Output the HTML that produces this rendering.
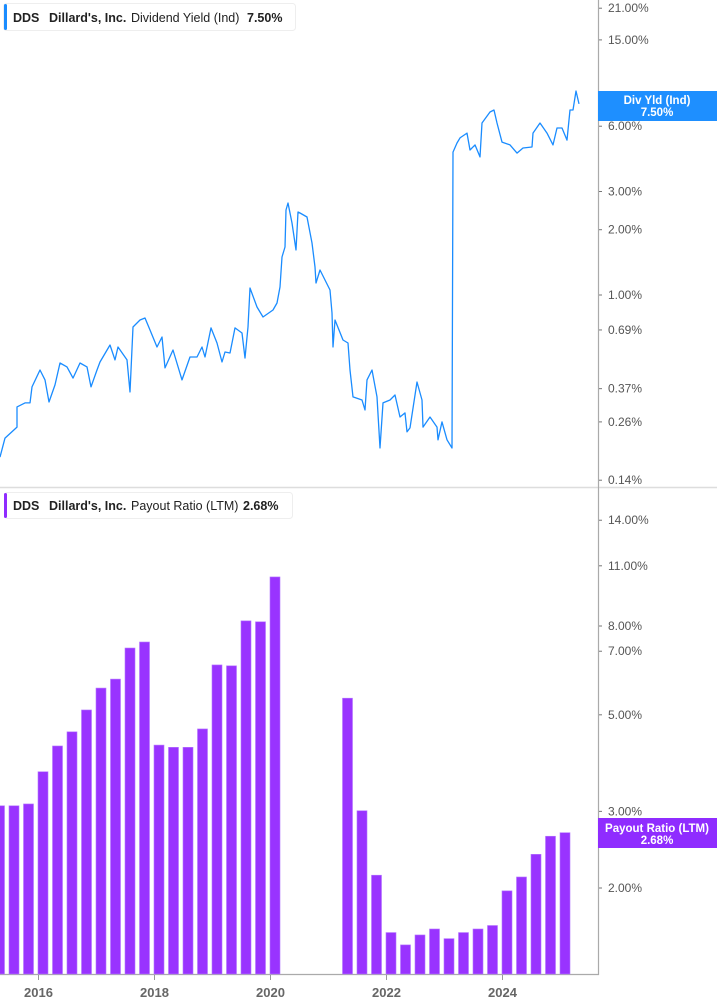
<!DOCTYPE html>
<html><head><meta charset="utf-8"><style>
body{margin:0;background:#fff;font-family:"Liberation Sans",sans-serif;}
svg{display:block}
</style></head><body>
<svg width="717" height="1005" viewBox="0 0 717 1005" id="chart">
<line x1="0" y1="487.5" x2="717" y2="487.5" stroke="#ddd" stroke-width="1.5"/>
<line x1="598.5" y1="0" x2="598.5" y2="975" stroke="#aaa" stroke-width="1.2"/>
<line x1="0" y1="974.5" x2="599" y2="974.5" stroke="#aaa" stroke-width="1.2"/>
<g id="top-ticks"></g>
<g id="bot-ticks"></g>
<g id="x-ticks"></g>
<g id="bars"></g>
<polyline id="yield-line" fill="none" stroke="#1a8cff" stroke-width="1.3" stroke-linejoin="round"/>
<g>
<rect x="3.5" y="3.5" width="292" height="27" rx="3" fill="#fff" stroke="#eee"/>
<rect x="4" y="4" width="3" height="26" rx="1.5" fill="#1a8cff"/>
<text x="13" y="22" font-size="12.5" font-weight="bold" fill="#222">DDS</text>
<text x="49" y="22" font-size="12.5" font-weight="bold" fill="#222">Dillard's, Inc.</text>
<text x="131" y="22" font-size="12.5" fill="#222">Dividend Yield (Ind)</text>
<text x="247" y="22" font-size="12.5" font-weight="bold" fill="#222">7.50%</text>
</g>
<g>
<rect x="4.5" y="492.5" width="288" height="26" rx="3" fill="#fff" stroke="#eee"/>
<rect x="4" y="493" width="3" height="25" rx="1.5" fill="#8f2cff"/>
<text x="13" y="510" font-size="12.5" font-weight="bold" fill="#222">DDS</text>
<text x="49" y="510" font-size="12.5" font-weight="bold" fill="#222">Dillard's, Inc.</text>
<text x="131" y="510" font-size="12.5" fill="#222">Payout Ratio (LTM)</text>
<text x="243" y="510" font-size="12.5" font-weight="bold" fill="#222">2.68%</text>
</g>
<g>
<rect x="598" y="91" width="119" height="30" fill="#1e8fff"/>
<text x="657" y="104" font-size="11.5" font-weight="bold" fill="#fff" text-anchor="middle">Div Yld (Ind)</text>
<text x="657" y="116" font-size="11.5" font-weight="bold" fill="#fff" text-anchor="middle">7.50%</text>
</g>
<g>
<rect x="598" y="818" width="119" height="30" fill="#8f2cff"/>
<text x="657" y="832" font-size="11.5" font-weight="bold" fill="#fff" text-anchor="middle">Payout Ratio (LTM)</text>
<text x="657" y="844" font-size="11.5" font-weight="bold" fill="#fff" text-anchor="middle">2.68%</text>
</g>
</svg>
<script>
const topTicks=[21,15,6,3,2,1,0.69,0.37,0.26,0.14];
const botTicks=[14,11,8,7,5,3,2];
const years=[2016,2018,2020,2022,2024];
const barQuarterIdx=[-3,-2,-1,0,1,2,3,4,5,6,7,8,9,10,11,12,13,14,15,16,21,22,23,24,25,26,27,28,29,30,31,32,33,34,35,36];
const barValues=[3.09,3.09,3.12,3.70,4.24,4.57,5.13,5.76,6.04,7.12,7.35,4.26,4.21,4.21,4.64,6.51,6.48,8.22,8.18,10.37,5.46,3.01,2.14,1.58,1.48,1.56,1.61,1.53,1.58,1.61,1.64,1.97,2.12,2.39,2.63,2.68];
const lineDates=[2015.345,2015.431,2015.638,2015.638,2015.776,2015.862,2015.897,2016.034,2016.121,2016.19,2016.293,2016.379,2016.5,2016.603,2016.724,2016.845,2016.914,2017.017,2017.069,2017.241,2017.328,2017.379,2017.534,2017.586,2017.638,2017.759,2017.845,2017.931,2018.052,2018.138,2018.19,2018.328,2018.483,2018.621,2018.741,2018.828,2018.879,2018.983,2019.086,2019.172,2019.224,2019.31,2019.345,2019.397,2019.517,2019.569,2019.621,2019.655,2019.776,2019.879,2020.052,2020.121,2020.172,2020.207,2020.259,2020.276,2020.31,2020.379,2020.448,2020.483,2020.517,2020.638,2020.724,2020.776,2020.793,2020.862,2020.948,2021.034,2021.069,2021.086,2021.121,2021.259,2021.345,2021.379,2021.431,2021.586,2021.638,2021.672,2021.759,2021.845,2021.897,2021.948,2022.069,2022.155,2022.241,2022.328,2022.362,2022.414,2022.534,2022.621,2022.638,2022.759,2022.879,2022.897,2022.966,2023.052,2023.138,2023.155,2023.224,2023.276,2023.397,2023.448,2023.534,2023.621,2023.655,2023.793,2023.862,2023.914,2024.0,2024.138,2024.259,2024.362,2024.517,2024.534,2024.655,2024.776,2024.879,2024.948,2025.034,2025.121,2025.172,2025.224,2025.276,2025.328];
const lineValues=[0.179,0.219,0.246,0.305,0.318,0.318,0.377,0.451,0.406,0.321,0.385,0.486,0.466,0.414,0.486,0.466,0.377,0.451,0.491,0.588,0.502,0.576,0.502,0.357,0.712,0.767,0.783,0.690,0.576,0.640,0.461,0.558,0.406,0.518,0.518,0.576,0.518,0.705,0.601,0.491,0.546,0.540,0.601,0.705,0.668,0.512,0.712,1.077,0.880,0.792,0.853,0.919,1.089,1.497,1.665,2.465,2.656,2.147,1.612,2.414,2.388,2.29,1.737,1.346,1.136,1.304,1.173,1.054,0.826,0.576,0.767,0.620,0.601,0.451,0.339,0.328,0.295,0.406,0.451,0.339,0.197,0.318,0.328,0.346,0.274,0.286,0.234,0.244,0.397,0.328,0.246,0.274,0.246,0.215,0.260,0.215,0.197,4.56,5.02,5.30,5.58,4.66,4.92,4.33,6.21,6.98,7.13,6.21,5.07,4.92,4.51,4.76,4.81,5.58,6.21,5.58,4.92,5.89,5.89,5.18,7.13,7.13,8.72,7.60];
const NS='http://www.w3.org/2000/svg';
function xOf(t){return 38+(t-2016)*58;}
function yTop(v){return 295-94.2*Math.log(v);}
function yBot(v){return 888-189*Math.log(v/2);}
function mk(tag,attrs,parent){const e=document.createElementNS(NS,tag);for(const k in attrs)e.setAttribute(k,attrs[k]);parent.appendChild(e);return e;}
function fmt(v){return v.toFixed(2)+'%';}
const tg=document.getElementById('top-ticks');
topTicks.forEach(v=>{const y=yTop(v);
 const t=mk('text',{x:608,y:y+4,'font-size':12,fill:'#555'},tg);t.textContent=fmt(v);
 
 
 mk('line',{x1:599,x2:602,y1:y,y2:y,stroke:'#777'},tg);});
const bg=document.getElementById('bot-ticks');
botTicks.forEach(v=>{const y=yBot(v);
 const t=mk('text',{x:608,y:y+4,'font-size':12,fill:'#555'},bg);t.textContent=fmt(v);
 
 
 mk('line',{x1:599,x2:602,y1:y,y2:y,stroke:'#777'},bg);});
const xg=document.getElementById('x-ticks');
years.forEach(yr=>{const x=xOf(yr)+0.5;
 mk('line',{x1:x,x2:x,y1:975,y2:980,stroke:'#999'},xg);
 const t=mk('text',{x:x,y:997,'font-size':13,'font-weight':'bold',fill:'#666','text-anchor':'middle'},xg);t.textContent=yr;
 
 });
const barg=document.getElementById('bars');
barQuarterIdx.forEach((k,i)=>{const x=xOf(2016+k/4);const y=yBot(barValues[i]);
 const r=mk('rect',{x:x,y:y,width:10,height:974-y,fill:'#9933ff',stroke:'#b577ff','stroke-width':0.6},barg);
 
 });
document.getElementById('yield-line').setAttribute('points',lineDates.map((t,i)=>xOf(t).toFixed(1)+','+yTop(lineValues[i]).toFixed(1)).join(' '));
</script>
</body></html>
